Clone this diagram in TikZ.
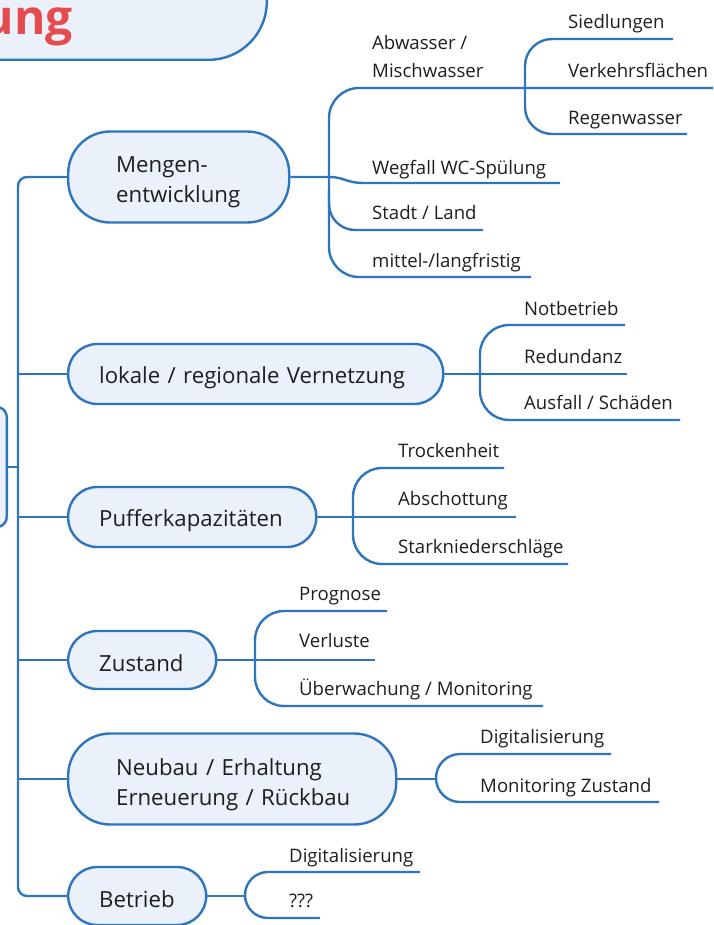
\documentclass[tikz,border=0pt]{standalone}
\usepackage{fontspec}
\setmainfont{Open Sans}
\definecolor{lineblue}{RGB}{46,117,190}
\definecolor{boxfill}{RGB}{234,241,250}
\definecolor{titlered}{RGB}{229,76,80}
\definecolor{txt}{RGB}{30,30,30}
\begin{document}
\begin{tikzpicture}[x=1pt,y=-1pt,
  link/.style={draw=lineblue, line width=2.4pt},
  mainbox/.style={draw=lineblue, fill=boxfill, line width=2.4pt, anchor=west, text=txt,
    font=\fontsize{22.2}{30}\selectfont, align=left, inner ysep=0pt},
  onebox/.style={mainbox, minimum height=60pt, rounded corners=29pt, inner xsep=31pt,
    execute at begin node={\rule{0pt}{24pt}}},
  twobox/.style={mainbox, minimum height=91pt, rounded corners=42pt, inner xsep=48pt},
  leaf/.style={anchor=base west, inner sep=0pt, text=txt, font=\fontsize{18.6}{28}\selectfont, align=left}]
\useasboundingbox (0,0) rectangle (713,925);
\clip (0,0) rectangle (713,925);

% title and root
\node (title) [draw=lineblue, fill=boxfill, line width=2.4pt, rounded corners=58pt,
  minimum width=400pt, minimum height=200pt, anchor=south east] at (268,61) {};
\node (titletext) [anchor=base east, inner sep=0pt, text=titlered,
  font=\fontsize{48}{52}\selectfont\bfseries] at (73,35) {ung};
\node (root) [draw=lineblue, fill=boxfill, line width=2.4pt, rounded corners=10pt,
  minimum width=60pt, minimum height=120pt, anchor=east] at (8,467) {};

% main nodes
\node (mengen) [twobox, minimum width=221pt, text width=125pt] at (67,177) {\rule{0pt}{27pt}\mbox{Mengen-}\\\mbox{entwicklung}};
\node (lokale) [onebox, minimum width=375pt, text width=313pt] at (67,374) {lokale / regionale Vernetzung};
\node (puffer) [onebox, minimum width=248pt, text width=186pt] at (67,517) {Pufferkapazitäten};
\node (zustand) [onebox, minimum height=58pt, minimum width=148pt, text width=86pt] at (67,660) {Zustand};
\node (neubau) [twobox, minimum width=328pt, text width=232pt] at (67,779) {\rule{0pt}{28pt}\mbox{Neubau / Erhaltung}\\\mbox{Erneuerung / Rückbau}};
\node (betrieb) [onebox, minimum height=58pt, minimum width=138pt, text width=76pt] at (67,896) {Betrieb};

% trunk
\coordinate (tj) at (18,467);
\draw[link] (root.east) -- (tj);
\draw[link, rounded corners=9pt] (mengen.west) -- (18,177) -- (18,896) -- (betrieb.west);
\draw[link] (18,374) -- (lokale.west);
\draw[link] (18,517) -- (puffer.west);
\draw[link] (18,660) -- (zustand.west);
\draw[link] (18,779) -- (neubau.west);

% Mengenentwicklung
\draw[link] (mengen.east) -- (329,177) .. controls (345,177) and (345,183) .. (365,183) -- (560,183);
\draw[link, rounded corners=30pt] (713,88) -- (329,88) -- (329,277) -- (531,277);
\draw[link, rounded corners=26pt] (329,190) -- (329,230) -- (483,230);
\draw[link, rounded corners=27pt] (673,39) -- (525,39) -- (525,134) -- (687,134);
\node (abw) [leaf] at (372,78) {Abwasser /\\Mischwasser};
\node (sied) [leaf] at (568,29) {Siedlungen};
\node (verk) [leaf] at (568,78) {Verkehrsflächen};
\node (regen) [leaf] at (568,125) {Regenwasser};
\node (wegf) [leaf] at (372,175) {Wegfall WC-Spülung};
\node (stadt) [leaf] at (372,220) {Stadt / Land};
\node (mittel) [leaf] at (372,267) {mittel-/langfristig};

% lokale
\draw[link] (lokale.east) -- (627,374);
\draw[link, rounded corners=29pt] (625,325) -- (480,325) -- (480,420) -- (680,420);
\node (notb) [leaf] at (524,315) {Notbetrieb};
\node (redu) [leaf] at (524,363) {Redundanz};
\node (ausf) [leaf] at (524,409) {Ausfall / Schäden};

% Puffer
\draw[link] (puffer.east) -- (516,517);
\draw[link, rounded corners=29pt] (504,468) -- (353,468) -- (353,564) -- (568,564);
\node (trock) [leaf] at (398,457) {Trockenheit};
\node (absch) [leaf] at (398,505) {Abschottung};
\node (stark) [leaf] at (398,553) {Starkniederschläge};

% Zustand
\draw[link] (zustand.east) -- (375,660);
\draw[link, rounded corners=29pt] (387,611) -- (255,611) -- (255,706) -- (543,706);
\node (progn) [leaf] at (299,600) {Prognose};
\node (verl) [leaf] at (299,647) {Verluste};
\node (ueberw) [leaf] at (299,695) {Überwachung / Monitoring};

% Neubau
\draw[link] (neubau.east) -- (436,779);
\draw[link, rounded corners=24pt] (611,754) -- (436,754) -- (436,802) -- (659,802);
\node (digi1) [leaf] at (480,743) {Digitalisierung};
\node (monz) [leaf] at (480,792) {Monitoring Zustand};

% Betrieb
\draw[link] (betrieb.east) -- (245,896);
\draw[link, rounded corners=23pt] (420,872) -- (245,872) -- (245,918) -- (320,918);
\node (digi2) [leaf] at (289,862) {Digitalisierung};
\node (qqq) [leaf] at (289,907) {???};
\end{tikzpicture}
\end{document}
